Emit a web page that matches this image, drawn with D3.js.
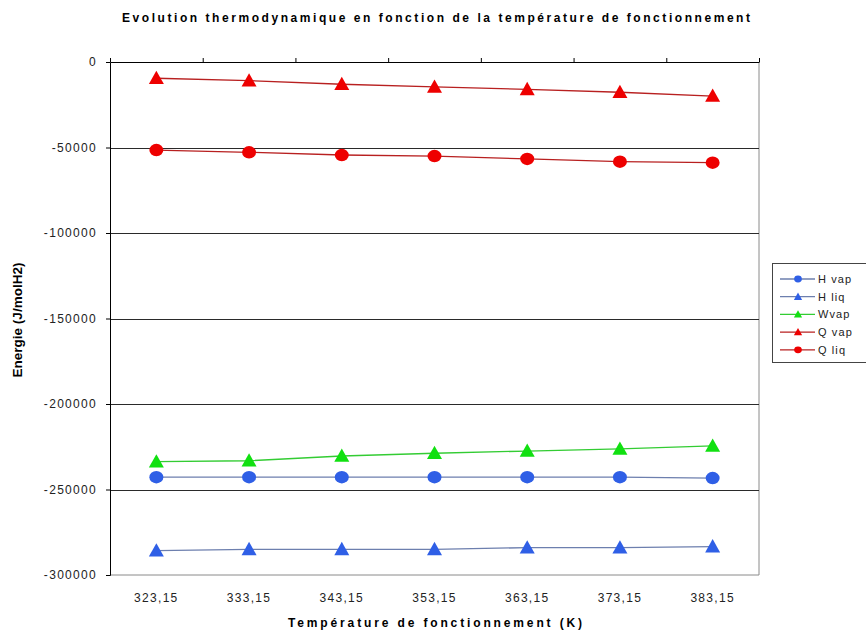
<!DOCTYPE html>
<html>
<head>
<meta charset="utf-8">
<script src="https://cdn.jsdelivr.net/npm/d3@7"></script>
<style>
  body { margin: 0; background: #fff; }
  svg { font-family: "Liberation Sans", Arial, sans-serif; }
</style>
</head>
<body>
<div id="chart"></div>
<script>
// data
const temperatures = ["323,15", "333,15", "343,15", "353,15", "363,15", "373,15", "383,15"];
const yTicks = [0, -50000, -100000, -150000, -200000, -250000, -300000];

const hVap = [-242800, -242800, -242800, -242800, -242800, -242800, -243300];
const hLiq = [-285800, -285000, -285000, -285000, -284000, -284000, -283400];
const wVap = [-233700, -233200, -230400, -228800, -227500, -226300, -224500];
const qVap = [-9500, -10900, -13000, -14600, -16000, -17700, -19900];
const qLiq = [-51500, -52800, -54400, -55000, -56700, -58300, -58900];

const seriesNames = ["H vap", "H liq", "Wvap", "Q vap", "Q liq"];

// style for each series
let series = [
  { name: seriesNames[0], values: hVap, line: "#6d7fae", fill: "#2f5fe6", shape: "circle" },
  { name: seriesNames[1], values: hLiq, line: "#6d7fae", fill: "#2f5fe6", shape: "triangle" },
  { name: seriesNames[2], values: wVap, line: "#33cc33", fill: "#11e011", shape: "triangle" },
  { name: seriesNames[3], values: qVap, line: "#b82020", fill: "#ee0000", shape: "triangle" },
  { name: seriesNames[4], values: qLiq, line: "#b82020", fill: "#ee0000", shape: "circle" }
];

const width = 866, height = 635;
const plot = { left: 110, right: 759, top: 62, bottom: 575 };

let svg = d3.select("#chart")
            .append("svg")
            .attr("width", width)
            .attr("height", height);

let x = d3.scaleBand()
          .domain(temperatures)
          .range([plot.left, plot.right]);

let y = d3.scaleLinear()
          .domain([-300000, 0])
          .range([plot.bottom, plot.top]);

// plot frame (right + bottom, light)
svg.append("path")
   .attr("d", `M${plot.left},${plot.bottom}H${plot.right}V${plot.top}`)
   .attr("fill", "none")
   .attr("stroke", "#8a8a8a")
   .attr("stroke-width", 1);

// gridlines
svg.append("g")
   .selectAll("line")
   .data(yTicks.filter(d => d !== 0 && d !== -300000))
   .enter()
   .append("line")
   .attr("x1", plot.left)
   .attr("x2", plot.right)
   .attr("y1", d => Math.round(y(d)) + 0.5)
   .attr("y2", d => Math.round(y(d)) + 0.5)
   .attr("stroke", "#2a2a2a")
   .attr("stroke-width", 1.2);

// y axis
let yAxis = svg.append("g")
   .attr("transform", `translate(${plot.left},0)`)
   .call(d3.axisLeft(y)
           .tickValues(yTicks)
           .tickSize(4)
           .tickPadding(9)
           .tickFormat(d3.format("d")));
yAxis.select(".domain").attr("stroke", "#000");
yAxis.selectAll(".tick line").attr("stroke", "#000");
yAxis.selectAll("text")
     .style("font-size", "12px")
     .style("letter-spacing", "1.3px")
     .attr("fill", "#222")
     .text(d => d === 0 ? "0" : "-" + Math.abs(d));

// x axis sits at y = 0 (top), ticks on category boundaries
let xBound = d3.scaleLinear().domain([0, temperatures.length]).range([plot.left, plot.right]);
let xAxis = svg.append("g")
   .attr("transform", `translate(0,${y(0)})`)
   .call(d3.axisTop(xBound)
           .ticks(temperatures.length)
           .tickSize(4)
           .tickSizeOuter(0)
           .tickFormat(""));
xAxis.select(".domain").attr("stroke", "#000").attr("stroke-width", 1.2);
xAxis.selectAll(".tick line").attr("stroke", "#000");

// category labels at the bottom
svg.append("g")
   .selectAll("text")
   .data(temperatures)
   .enter()
   .append("text")
   .attr("x", d => x(d) + x.bandwidth() / 2)
   .attr("y", 602)
   .attr("text-anchor", "middle")
   .style("font-size", "12px")
   .style("letter-spacing", "1.3px")
   .attr("fill", "#222")
   .text(d => d);

// marker drawing
function drawMarker(sel, shape, fill) {
  if (shape === "circle") {
    sel.append("ellipse")
       .attr("rx", 7)
       .attr("ry", 6.2)
       .attr("fill", fill);
  } else {
    sel.append("path")
       .attr("d", "M0,-7.5L7.5,5.8L-7.5,5.8Z")
       .attr("fill", fill);
  }
}

let line = d3.line()
             .x((d, i) => x(temperatures[i]) + x.bandwidth() / 2)
             .y(d => y(d));

series.forEach(function(s) {
  svg.append("path")
     .datum(s.values)
     .attr("fill", "none")
     .attr("stroke", s.line)
     .attr("stroke-width", 1.3)
     .attr("d", line);

  svg.append("g")
     .selectAll("g")
     .data(s.values)
     .enter()
     .append("g")
     .attr("transform", (d, i) => `translate(${x(temperatures[i]) + x.bandwidth() / 2},${y(d)})`)
     .each(function() { drawMarker(d3.select(this), s.shape, s.fill); });
});

// legend
let legend = svg.append("g").attr("transform", "translate(772,263)");
legend.append("rect")
      .attr("x", 0.5)
      .attr("y", 0.5)
      .attr("width", 110)
      .attr("height", 99)
      .attr("fill", "#fff")
      .attr("stroke", "#444");

let items = legend.selectAll("g.item")
      .data(series)
      .enter()
      .append("g")
      .attr("class", "item")
      .attr("transform", (d, i) => `translate(0,${16 + i * 17.7})`);
items.append("line")
     .attr("x1", 8).attr("x2", 43)
     .attr("stroke", d => d.line)
     .attr("stroke-width", 1.3);
items.each(function(d) {
  let g = d3.select(this).append("g")
            .attr("transform", "translate(26,0) scale(0.55)");
  drawMarker(g, d.shape, d.fill);
});
items.append("text")
     .attr("x", 46)
     .attr("dy", "0.35em")
     .style("font-size", "11px")
     .style("letter-spacing", "1.1px")
     .attr("fill", "#222")
     .text(d => d.name);

// title
svg.append("text")
   .attr("x", 436)
   .attr("y", 22)
   .attr("text-anchor", "middle")
   .attr("textLength", 628)
   .attr("lengthAdjust", "spacing")
   .style("font-size", "12px")
   .style("font-weight", "bold")
   .text("Evolution thermodynamique en fonction de la température de fonctionnement");

// x axis title
svg.append("text")
   .attr("x", 435)
   .attr("y", 627)
   .attr("text-anchor", "middle")
   .attr("textLength", 294)
   .attr("lengthAdjust", "spacing")
   .style("font-size", "12px")
   .style("font-weight", "bold")
   .text("Température de fonctionnement (K)");

// y axis title
svg.append("text")
   .attr("transform", "translate(22,320) rotate(-90)")
   .attr("text-anchor", "middle")
   .attr("textLength", 115)
   .attr("lengthAdjust", "spacingAndGlyphs")
   .style("font-size", "12px")
   .style("font-weight", "bold")
   .text("Energie (J/molH2)");
</script>
</body>
</html>
